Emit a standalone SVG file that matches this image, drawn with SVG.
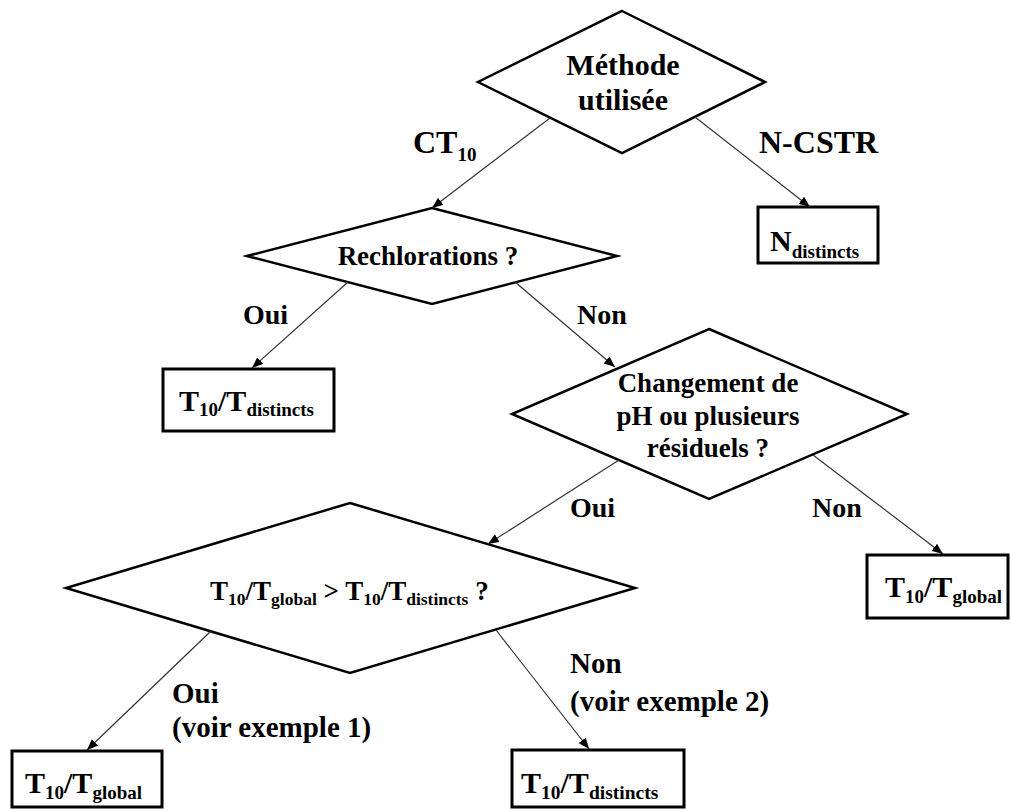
<svg xmlns="http://www.w3.org/2000/svg" width="1011" height="810" viewBox="0 0 1011 810">
<defs>
<marker id="arr" markerWidth="11" markerHeight="9" refX="11" refY="4.5" orient="auto" markerUnits="userSpaceOnUse">
<path d="M0,0 L11,4.5 L0,9 z" fill="#000"/>
</marker>
<style>
.t{font-family:"Liberation Serif","Times New Roman",serif;font-weight:bold;fill:#000}
.dia{fill:#fff;stroke:#000;stroke-width:2.5;stroke-linejoin:miter}
.box{fill:#fff;stroke:#000;stroke-width:3}
.conn{stroke:#333;stroke-width:1.2;fill:none;marker-end:url(#arr)}
</style>
</defs>
<rect width="1011" height="810" fill="#fff"/>

<g id="methode">
<polygon class="dia" points="622,11 765,82 622,153 478,82"/>
<text class="t" x="623" y="75" font-size="30" text-anchor="middle">Méthode</text>
<text class="t" x="623" y="110" font-size="30" text-anchor="middle">utilisée</text>
</g>

<g id="ndistincts">
<rect class="box" x="758" y="207" width="120" height="56"/>
<text class="t" x="770" y="251" font-size="30">N<tspan font-size="19" dy="7">distincts</tspan></text>
</g>

<g id="rechlorations">
<polygon class="dia" points="432,208 617,256 432,304 247,256"/>
<text class="t" x="428" y="265" font-size="27" text-anchor="middle">Rechlorations ?</text>
</g>

<g id="t10distincts1">
<rect class="box" x="163" y="369" width="171" height="62"/>
<text class="t" x="179" y="411" font-size="30">T<tspan font-size="19" dy="5">10</tspan><tspan dy="-5">/T</tspan><tspan font-size="19" dy="5">distincts</tspan></text>
</g>

<g id="changement">
<polygon class="dia" points="709,329 907,414 709,499 512,414"/>
<text class="t" x="708" y="392" font-size="27" text-anchor="middle">Changement de</text>
<text class="t" x="708" y="425" font-size="27" text-anchor="middle">pH ou plusieurs</text>
<text class="t" x="708" y="457" font-size="27" text-anchor="middle">résiduels ?</text>
</g>

<g id="t10global1">
<rect class="box" x="867" y="555" width="141" height="63"/>
<text class="t" x="885" y="597" font-size="30">T<tspan font-size="19" dy="6">10</tspan><tspan dy="-6">/T</tspan><tspan font-size="19" dy="6">global</tspan></text>
</g>

<g id="comparaison">
<polygon class="dia" points="350,503 635,588 350,673 66,588"/>
<text class="t" x="210" y="600" font-size="27">T<tspan font-size="17.5" dy="5">10</tspan><tspan dy="-5">/T</tspan><tspan font-size="17.5" dy="5">global</tspan><tspan dy="-5"> &gt; T</tspan><tspan font-size="17.5" dy="5">10</tspan><tspan dy="-5">/T</tspan><tspan font-size="17.5" dy="5">distincts</tspan><tspan dy="-5"> ?</tspan></text>
</g>

<g id="t10global2">
<rect class="box" x="12" y="751" width="150" height="56"/>
<text class="t" x="25" y="793" font-size="30">T<tspan font-size="19" dy="6">10</tspan><tspan dy="-6">/T</tspan><tspan font-size="19" dy="6">global</tspan></text>
</g>

<g id="t10distincts2">
<rect class="box" x="512" y="750" width="172" height="57"/>
<text class="t" x="521" y="793" font-size="30">T<tspan font-size="19.5" dy="6">10</tspan><tspan dy="-6">/T</tspan><tspan font-size="19.5" dy="6">distincts</tspan></text>
</g>

<g id="connectors">
<line class="conn" x1="550" y1="118" x2="432" y2="208"/>
<line class="conn" x1="695" y1="117" x2="810" y2="207"/>
<line class="conn" x1="348" y1="282" x2="252" y2="368"/>
<line class="conn" x1="515" y1="282" x2="615" y2="367"/>
<line class="conn" x1="619" y1="460" x2="488" y2="544"/>
<line class="conn" x1="813" y1="455" x2="943" y2="554"/>
<line class="conn" x1="211" y1="631" x2="87" y2="750"/>
<line class="conn" x1="496" y1="630" x2="589" y2="749"/>
</g>

<g id="labels">
<text class="t" x="413" y="153" font-size="32">CT<tspan font-size="19" dy="8">10</tspan></text>
<text class="t" x="759" y="153" font-size="32">N-CSTR</text>
<text class="t" x="243" y="324" font-size="28">Oui</text>
<text class="t" x="577" y="324" font-size="28">Non</text>
<text class="t" x="570" y="517" font-size="28">Oui</text>
<text class="t" x="812" y="517" font-size="28">Non</text>
<text class="t" x="172" y="703" font-size="29">Oui</text>
<text class="t" x="172" y="737" font-size="29">(voir exemple 1)</text>
<text class="t" x="570" y="673" font-size="29">Non</text>
<text class="t" x="570" y="711" font-size="29">(voir exemple 2)</text>
</g>
</svg>
